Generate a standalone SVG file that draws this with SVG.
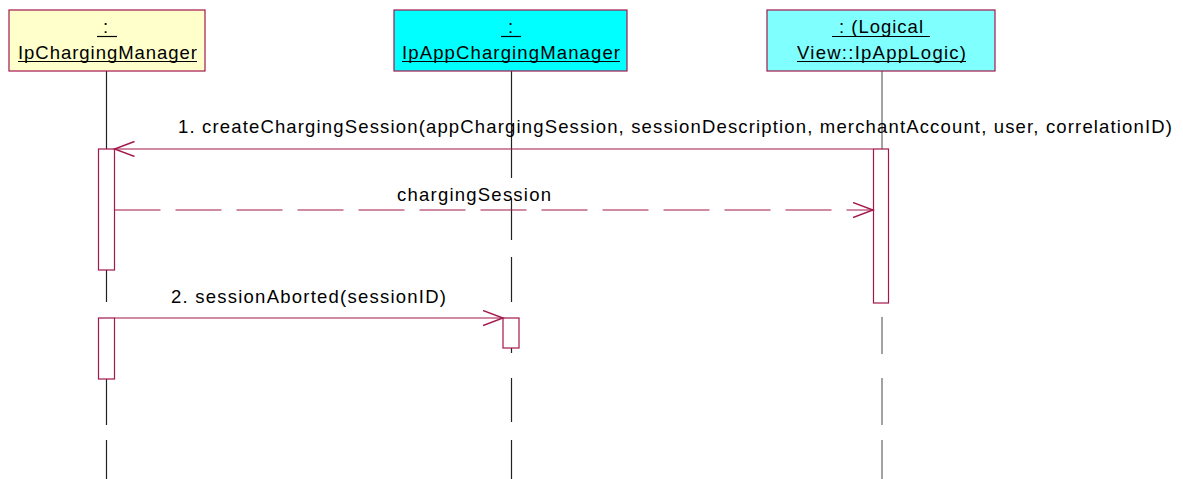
<svg xmlns="http://www.w3.org/2000/svg" width="1183" height="479" viewBox="0 0 1183 479">
<style>
.box{stroke:#A3174B;stroke-width:1.2}
.t{font-family:"Liberation Sans",Arial,sans-serif;font-size:18.5px;fill:#000}
.ul{stroke:#000;stroke-width:1.2}
.life{stroke:#222;stroke-width:1.2;fill:none}
.act{fill:#fff;stroke:#A3174B;stroke-width:1.2}
.msg{stroke:#A3174B;stroke-width:1.2;fill:none}
.dash{stroke-dasharray:46 15}
</style>
<defs>
<marker id="open" markerUnits="userSpaceOnUse" markerWidth="24" markerHeight="20" refX="20" refY="8" orient="auto">
<path d="M0,0.5 L20,8 L0,15.5" fill="none" stroke="#A3174B" stroke-width="1.4"/>
</marker>
</defs>
<rect width="1183" height="479" fill="#fff"/>
<g id="lifelines">
<path class="life" d="M106.5,71V149M106.5,270V302M106.5,379V425M106.5,440V479"/>
<path class="life" d="M511.5,71V178M511.5,198V240M511.5,257V302M511.5,348V353M511.5,378V422M511.5,440V479"/>
<path class="life" style="stroke:#666" d="M882,71V149M882,317V354M882,378V425M882,440V479"/>
</g>
<g id="IpChargingManager">
<rect class="box" x="9" y="10" width="196" height="61" fill="#FFFFCC"/>
<text class="t" x="103" y="33">:</text>
<line class="ul" x1="97" y1="36.5" x2="117" y2="36.5"/>
<text class="t" x="18" y="59" textLength="179" lengthAdjust="spacing">IpChargingManager</text>
<line class="ul" x1="18" y1="61.5" x2="197" y2="61.5"/>
</g>
<g id="IpAppChargingManager">
<rect class="box" x="394" y="10" width="233" height="61" fill="#00FFFF"/>
<text class="t" x="508" y="33">:</text>
<line class="ul" x1="501" y1="36.5" x2="521" y2="36.5"/>
<text class="t" x="402" y="59" textLength="218" lengthAdjust="spacing">IpAppChargingManager</text>
<line class="ul" x1="402" y1="61.5" x2="620" y2="61.5"/>
</g>
<g id="IpAppLogic">
<rect class="box" x="767" y="10" width="228" height="61" fill="#80FFFF"/>
<text class="t" x="839" y="33" textLength="84" lengthAdjust="spacing">: (Logical</text>
<line class="ul" x1="832" y1="36.5" x2="930" y2="36.5"/>
<text class="t" x="797" y="59" textLength="169" lengthAdjust="spacing">View::IpAppLogic)</text>
<line class="ul" x1="797" y1="61.5" x2="966" y2="61.5"/>
</g>
<g id="activations">
<rect class="act" x="98.5" y="149" width="16" height="121"/>
<rect class="act" x="873.5" y="149" width="15" height="154"/>
<rect class="act" x="98.5" y="318" width="16" height="61"/>
<rect class="act" x="503" y="318" width="16" height="30"/>
</g>
<g id="connectors">
<line class="msg" x1="873" y1="149" x2="114.5" y2="149" marker-end="url(#open)"/>
<text class="t" x="178" y="133" textLength="994" lengthAdjust="spacing">1. createChargingSession(appChargingSession, sessionDescription, merchantAccount, user, correlationID)</text>
<line class="msg dash" x1="114.5" y1="210" x2="873" y2="210" marker-end="url(#open)"/>
<text class="t" x="397" y="201" textLength="154" lengthAdjust="spacing">chargingSession</text>
<line class="msg" x1="114.5" y1="318" x2="503" y2="318" marker-end="url(#open)"/>
<text class="t" x="171" y="303" textLength="275" lengthAdjust="spacing">2. sessionAborted(sessionID)</text>
</g>
</svg>
